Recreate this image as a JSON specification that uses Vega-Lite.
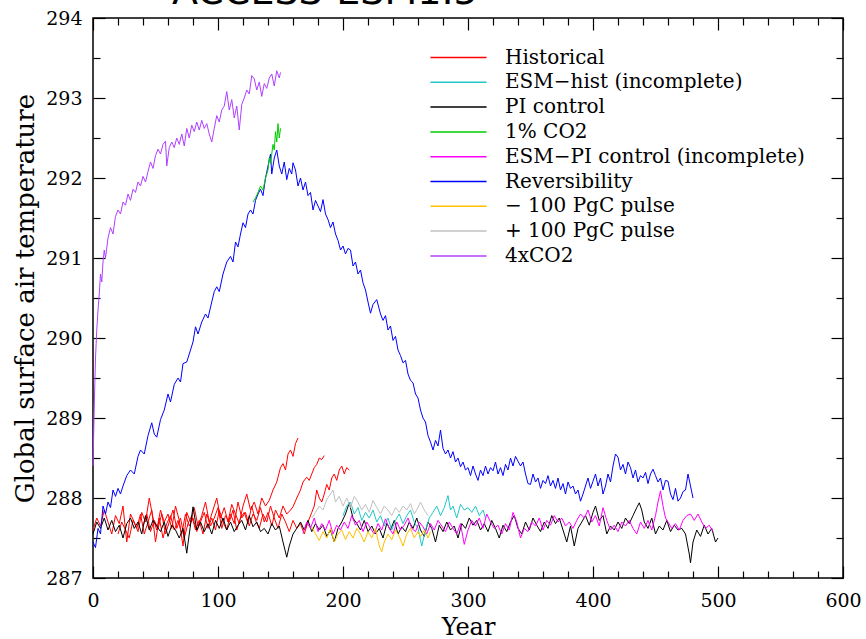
{
 "$schema": "https://vega.github.io/schema/vega-lite/v6.json",
 "width": 750,
 "height": 560,
 "autosize": "none",
 "padding": {"left": 93, "top": 18, "right": 23, "bottom": 61},
 "background": "white",
 "title": {"text": "ACCESS-ESM1.5", "anchor": "start", "frame": "group", "dx": 79, "offset": -33, "baseline": "alphabetic", "font": "DejaVu Sans", "fontSize": 38, "fontWeight": "normal", "color": "black"},
 "config": {"view": {"stroke": "black", "strokeWidth": 1.5}},
 "datasets": {
  "c4": [{"x":0,"y":288.4},{"x":1,"y":289.15},{"x":2,"y":289.75},{"x":3,"y":290.1},{"x":4,"y":290.35},{"x":5,"y":290.55},{"x":6,"y":290.8},{"x":7,"y":290.7},{"x":8,"y":290.95},{"x":9,"y":291.1},{"x":10,"y":291.0},{"x":12,"y":291.25},{"x":14,"y":291.38},{"x":16,"y":291.3},{"x":18,"y":291.52},{"x":20,"y":291.6},{"x":22,"y":291.55},{"x":24,"y":291.7},{"x":26,"y":291.66},{"x":28,"y":291.8},{"x":30,"y":291.72},{"x":32,"y":291.86},{"x":34,"y":291.82},{"x":36,"y":291.95},{"x":38,"y":291.9},{"x":40,"y":292.02},{"x":42,"y":291.95},{"x":44,"y":292.08},{"x":46,"y":292.2},{"x":48,"y":292.12},{"x":50,"y":292.28},{"x":52,"y":292.36},{"x":54,"y":292.3},{"x":56,"y":292.42},{"x":58,"y":292.46},{"x":59,"y":292.15},{"x":61,"y":292.38},{"x":63,"y":292.45},{"x":65,"y":292.38},{"x":67,"y":292.5},{"x":69,"y":292.42},{"x":71,"y":292.55},{"x":73,"y":292.4},{"x":75,"y":292.62},{"x":77,"y":292.5},{"x":79,"y":292.66},{"x":81,"y":292.58},{"x":83,"y":292.7},{"x":85,"y":292.6},{"x":87,"y":292.72},{"x":89,"y":292.62},{"x":91,"y":292.68},{"x":93,"y":292.55},{"x":95,"y":292.45},{"x":97,"y":292.62},{"x":99,"y":292.78},{"x":101,"y":292.7},{"x":103,"y":292.85},{"x":105,"y":292.9},{"x":107,"y":293.08},{"x":109,"y":292.85},{"x":111,"y":292.98},{"x":113,"y":292.75},{"x":115,"y":292.9},{"x":117,"y":292.6},{"x":119,"y":292.92},{"x":121,"y":293.0},{"x":123,"y":293.1},{"x":125,"y":293.05},{"x":127,"y":293.28},{"x":129,"y":293.24},{"x":131,"y":293.1},{"x":133,"y":293.2},{"x":135,"y":293.02},{"x":137,"y":293.18},{"x":139,"y":293.12},{"x":141,"y":293.25},{"x":143,"y":293.3},{"x":145,"y":293.15},{"x":147,"y":293.34},{"x":149,"y":293.25},{"x":150,"y":293.32}],
  "rev": [{"x":0,"y":287.45},{"x":2,"y":287.38},{"x":4,"y":287.62},{"x":6,"y":287.55},{"x":8,"y":287.9},{"x":10,"y":287.8},{"x":12,"y":287.95},{"x":14,"y":287.88},{"x":16,"y":288.1},{"x":18,"y":288.02},{"x":20,"y":288.12},{"x":22,"y":288.05},{"x":24,"y":288.15},{"x":27,"y":288.28},{"x":30,"y":288.35},{"x":33,"y":288.3},{"x":36,"y":288.52},{"x":38,"y":288.6},{"x":41,"y":288.55},{"x":44,"y":288.78},{"x":47,"y":288.94},{"x":49,"y":288.8},{"x":51,"y":288.76},{"x":54,"y":288.98},{"x":57,"y":289.1},{"x":60,"y":289.3},{"x":62,"y":289.2},{"x":65,"y":289.42},{"x":68,"y":289.5},{"x":70,"y":289.45},{"x":72,"y":289.68},{"x":75,"y":289.7},{"x":78,"y":289.85},{"x":80,"y":289.95},{"x":82,"y":290.14},{"x":84,"y":290.05},{"x":87,"y":290.2},{"x":90,"y":290.3},{"x":92,"y":290.25},{"x":95,"y":290.45},{"x":97,"y":290.58},{"x":99,"y":290.64},{"x":101,"y":290.58},{"x":104,"y":290.8},{"x":107,"y":290.95},{"x":110,"y":291.02},{"x":112,"y":290.95},{"x":114,"y":291.2},{"x":116,"y":291.14},{"x":118,"y":291.3},{"x":120,"y":291.44},{"x":122,"y":291.38},{"x":124,"y":291.55},{"x":126,"y":291.6},{"x":128,"y":291.55},{"x":130,"y":291.72},{"x":132,"y":291.8},{"x":134,"y":291.86},{"x":136,"y":291.78},{"x":138,"y":292.0},{"x":140,"y":292.15},{"x":142,"y":292.3},{"x":143,"y":292.05},{"x":145,"y":292.25},{"x":147,"y":292.35},{"x":149,"y":292.15},{"x":151,"y":292.05},{"x":153,"y":292.2},{"x":155,"y":291.98},{"x":157,"y":292.12},{"x":159,"y":292.05},{"x":160,"y":292.19},{"x":162,"y":292.1},{"x":164,"y":291.9},{"x":166,"y":292.0},{"x":168,"y":291.85},{"x":170,"y":291.95},{"x":172,"y":291.78},{"x":174,"y":291.82},{"x":176,"y":291.6},{"x":178,"y":291.72},{"x":180,"y":291.65},{"x":182,"y":291.58},{"x":184,"y":291.73},{"x":186,"y":291.55},{"x":188,"y":291.48},{"x":190,"y":291.38},{"x":192,"y":291.45},{"x":194,"y":291.3},{"x":196,"y":291.22},{"x":198,"y":291.1},{"x":200,"y":291.15},{"x":202,"y":291.05},{"x":204,"y":291.12},{"x":206,"y":291.1},{"x":208,"y":290.9},{"x":210,"y":290.95},{"x":212,"y":290.8},{"x":214,"y":290.85},{"x":216,"y":290.69},{"x":218,"y":290.6},{"x":220,"y":290.45},{"x":222,"y":290.31},{"x":224,"y":290.42},{"x":227,"y":290.48},{"x":230,"y":290.3},{"x":232,"y":290.22},{"x":234,"y":290.28},{"x":236,"y":290.1},{"x":238,"y":290.15},{"x":240,"y":289.97},{"x":242,"y":290.02},{"x":244,"y":289.85},{"x":246,"y":289.78},{"x":248,"y":289.69},{"x":250,"y":289.72},{"x":252,"y":289.55},{"x":254,"y":289.47},{"x":256,"y":289.44},{"x":258,"y":289.3},{"x":260,"y":289.25},{"x":262,"y":289.1},{"x":264,"y":289.0},{"x":266,"y":288.95},{"x":268,"y":288.78},{"x":270,"y":288.7},{"x":272,"y":288.6},{"x":274,"y":288.72},{"x":276,"y":288.65},{"x":278,"y":288.85},{"x":280,"y":288.62},{"x":282,"y":288.55},{"x":284,"y":288.6},{"x":286,"y":288.5},{"x":288,"y":288.58},{"x":290,"y":288.45},{"x":292,"y":288.5},{"x":294,"y":288.39},{"x":296,"y":288.45},{"x":298,"y":288.35},{"x":300,"y":288.38},{"x":302,"y":288.28},{"x":304,"y":288.4},{"x":306,"y":288.3},{"x":308,"y":288.22},{"x":310,"y":288.35},{"x":312,"y":288.28},{"x":314,"y":288.4},{"x":316,"y":288.3},{"x":318,"y":288.38},{"x":320,"y":288.34},{"x":322,"y":288.45},{"x":324,"y":288.3},{"x":326,"y":288.38},{"x":328,"y":288.28},{"x":330,"y":288.42},{"x":332,"y":288.35},{"x":334,"y":288.5},{"x":336,"y":288.4},{"x":338,"y":288.52},{"x":340,"y":288.46},{"x":342,"y":288.4},{"x":344,"y":288.45},{"x":346,"y":288.3},{"x":348,"y":288.18},{"x":350,"y":288.17},{"x":352,"y":288.3},{"x":354,"y":288.2},{"x":356,"y":288.25},{"x":358,"y":288.12},{"x":360,"y":288.22},{"x":362,"y":288.18},{"x":364,"y":288.28},{"x":366,"y":288.15},{"x":368,"y":288.22},{"x":370,"y":288.12},{"x":372,"y":288.25},{"x":374,"y":288.1},{"x":376,"y":288.18},{"x":378,"y":288.05},{"x":380,"y":288.2},{"x":382,"y":288.12},{"x":384,"y":288.15},{"x":386,"y":288.05},{"x":388,"y":288.1},{"x":390,"y":287.96},{"x":392,"y":288.05},{"x":394,"y":288.15},{"x":396,"y":288.25},{"x":398,"y":288.12},{"x":400,"y":288.21},{"x":402,"y":288.3},{"x":404,"y":288.15},{"x":406,"y":288.25},{"x":408,"y":288.05},{"x":410,"y":288.15},{"x":412,"y":288.3},{"x":414,"y":288.2},{"x":416,"y":288.4},{"x":418,"y":288.55},{"x":420,"y":288.51},{"x":422,"y":288.35},{"x":424,"y":288.42},{"x":426,"y":288.3},{"x":428,"y":288.45},{"x":430,"y":288.38},{"x":432,"y":288.25},{"x":434,"y":288.35},{"x":436,"y":288.2},{"x":438,"y":288.28},{"x":440,"y":288.25},{"x":442,"y":288.32},{"x":444,"y":288.18},{"x":446,"y":288.3},{"x":448,"y":288.36},{"x":450,"y":288.28},{"x":452,"y":288.2},{"x":454,"y":288.25},{"x":456,"y":288.1},{"x":458,"y":288.22},{"x":460,"y":288.21},{"x":462,"y":288.05},{"x":464,"y":287.98},{"x":466,"y":288.12},{"x":468,"y":287.96},{"x":470,"y":288.0},{"x":472,"y":288.08},{"x":474,"y":288.1},{"x":476,"y":288.3},{"x":478,"y":288.15},{"x":480,"y":288.0}],
  "pct": [{"x":128,"y":291.7},{"x":130,"y":291.75},{"x":132,"y":291.82},{"x":134,"y":291.9},{"x":136,"y":291.85},{"x":138,"y":292.0},{"x":140,"y":292.1},{"x":141,"y":292.25},{"x":142,"y":292.18},{"x":143,"y":292.3},{"x":144,"y":292.42},{"x":145,"y":292.35},{"x":146,"y":292.58},{"x":147,"y":292.45},{"x":148,"y":292.68},{"x":149,"y":292.5},{"x":150,"y":292.62}],
  "pi": [{"x":0,"y":287.55},{"x":3,"y":287.7},{"x":6,"y":287.62},{"x":9,"y":287.75},{"x":12,"y":287.6},{"x":15,"y":287.72},{"x":18,"y":287.58},{"x":21,"y":287.66},{"x":24,"y":287.5},{"x":27,"y":287.68},{"x":30,"y":287.75},{"x":33,"y":287.62},{"x":36,"y":287.7},{"x":39,"y":287.55},{"x":42,"y":287.78},{"x":45,"y":287.6},{"x":48,"y":287.72},{"x":51,"y":287.65},{"x":54,"y":287.58},{"x":57,"y":287.7},{"x":60,"y":287.52},{"x":63,"y":287.66},{"x":66,"y":287.6},{"x":69,"y":287.5},{"x":72,"y":287.62},{"x":75,"y":287.31},{"x":77,"y":287.55},{"x":80,"y":287.89},{"x":83,"y":287.6},{"x":86,"y":287.7},{"x":89,"y":287.58},{"x":92,"y":287.68},{"x":95,"y":287.55},{"x":98,"y":287.72},{"x":101,"y":287.62},{"x":104,"y":287.75},{"x":107,"y":287.6},{"x":110,"y":287.7},{"x":113,"y":287.58},{"x":116,"y":287.66},{"x":119,"y":287.72},{"x":122,"y":287.6},{"x":125,"y":287.78},{"x":128,"y":287.64},{"x":131,"y":287.7},{"x":134,"y":287.58},{"x":137,"y":287.62},{"x":140,"y":287.55},{"x":143,"y":287.68},{"x":146,"y":287.6},{"x":149,"y":287.65},{"x":152,"y":287.45},{"x":155,"y":287.26},{"x":157,"y":287.4},{"x":160,"y":287.55},{"x":163,"y":287.62},{"x":166,"y":287.7},{"x":169,"y":287.6},{"x":172,"y":287.72},{"x":175,"y":287.58},{"x":178,"y":287.68},{"x":181,"y":287.6},{"x":184,"y":287.66},{"x":187,"y":287.52},{"x":190,"y":287.6},{"x":193,"y":287.45},{"x":196,"y":287.62},{"x":199,"y":287.7},{"x":202,"y":287.8},{"x":205,"y":287.94},{"x":208,"y":287.75},{"x":211,"y":287.68},{"x":214,"y":287.6},{"x":217,"y":287.72},{"x":220,"y":287.58},{"x":223,"y":287.65},{"x":226,"y":287.55},{"x":229,"y":287.62},{"x":232,"y":287.5},{"x":235,"y":287.68},{"x":238,"y":287.6},{"x":241,"y":287.72},{"x":244,"y":287.55},{"x":247,"y":287.64},{"x":250,"y":287.58},{"x":253,"y":287.7},{"x":256,"y":287.62},{"x":259,"y":287.75},{"x":262,"y":287.6},{"x":265,"y":287.52},{"x":268,"y":287.7},{"x":271,"y":287.62},{"x":274,"y":287.45},{"x":277,"y":287.66},{"x":280,"y":287.58},{"x":283,"y":287.7},{"x":286,"y":287.6},{"x":289,"y":287.65},{"x":292,"y":287.5},{"x":295,"y":287.68},{"x":298,"y":287.62},{"x":301,"y":287.75},{"x":304,"y":287.66},{"x":307,"y":287.72},{"x":310,"y":287.6},{"x":313,"y":287.68},{"x":316,"y":287.58},{"x":319,"y":287.72},{"x":322,"y":287.62},{"x":325,"y":287.5},{"x":328,"y":287.66},{"x":331,"y":287.58},{"x":334,"y":287.7},{"x":337,"y":287.78},{"x":340,"y":287.62},{"x":343,"y":287.55},{"x":346,"y":287.7},{"x":349,"y":287.6},{"x":352,"y":287.75},{"x":355,"y":287.66},{"x":358,"y":287.58},{"x":361,"y":287.7},{"x":364,"y":287.62},{"x":367,"y":287.78},{"x":370,"y":287.68},{"x":373,"y":287.75},{"x":376,"y":287.6},{"x":379,"y":287.45},{"x":382,"y":287.65},{"x":385,"y":287.4},{"x":388,"y":287.62},{"x":391,"y":287.7},{"x":394,"y":287.78},{"x":397,"y":287.66},{"x":400,"y":287.82},{"x":402,"y":287.9},{"x":405,"y":287.72},{"x":408,"y":287.78},{"x":411,"y":287.55},{"x":414,"y":287.65},{"x":417,"y":287.6},{"x":420,"y":287.7},{"x":423,"y":287.62},{"x":426,"y":287.75},{"x":429,"y":287.68},{"x":432,"y":287.78},{"x":435,"y":287.88},{"x":437,"y":287.94},{"x":439,"y":287.85},{"x":441,"y":287.7},{"x":444,"y":287.62},{"x":447,"y":287.75},{"x":450,"y":287.55},{"x":453,"y":287.65},{"x":456,"y":287.6},{"x":459,"y":287.72},{"x":462,"y":287.58},{"x":465,"y":287.66},{"x":468,"y":287.6},{"x":471,"y":287.62},{"x":474,"y":287.55},{"x":477,"y":287.3},{"x":478,"y":287.19},{"x":480,"y":287.45},{"x":483,"y":287.6},{"x":486,"y":287.52},{"x":489,"y":287.66},{"x":492,"y":287.55},{"x":495,"y":287.62},{"x":498,"y":287.45},{"x":500,"y":287.5}],
  "esmpi": [{"x":168,"y":287.56},{"x":171,"y":287.7},{"x":174,"y":287.62},{"x":177,"y":287.75},{"x":180,"y":287.58},{"x":183,"y":287.68},{"x":186,"y":287.6},{"x":189,"y":287.72},{"x":192,"y":287.55},{"x":195,"y":287.66},{"x":198,"y":287.6},{"x":201,"y":287.7},{"x":204,"y":287.62},{"x":207,"y":287.78},{"x":210,"y":287.66},{"x":213,"y":287.72},{"x":216,"y":287.58},{"x":219,"y":287.7},{"x":222,"y":287.62},{"x":225,"y":287.55},{"x":228,"y":287.68},{"x":231,"y":287.6},{"x":234,"y":287.74},{"x":237,"y":287.62},{"x":240,"y":287.55},{"x":243,"y":287.7},{"x":246,"y":287.6},{"x":249,"y":287.66},{"x":252,"y":287.75},{"x":255,"y":287.62},{"x":258,"y":287.58},{"x":261,"y":287.7},{"x":264,"y":287.64},{"x":267,"y":287.55},{"x":270,"y":287.68},{"x":273,"y":287.6},{"x":276,"y":287.72},{"x":279,"y":287.65},{"x":282,"y":287.58},{"x":285,"y":287.7},{"x":288,"y":287.62},{"x":291,"y":287.55},{"x":294,"y":287.68},{"x":297,"y":287.42},{"x":300,"y":287.6},{"x":303,"y":287.72},{"x":306,"y":287.65},{"x":309,"y":287.75},{"x":312,"y":287.62},{"x":315,"y":287.8},{"x":318,"y":287.7},{"x":321,"y":287.62},{"x":324,"y":287.66},{"x":327,"y":287.55},{"x":330,"y":287.68},{"x":333,"y":287.6},{"x":336,"y":287.82},{"x":339,"y":287.7},{"x":342,"y":287.5},{"x":345,"y":287.62},{"x":348,"y":287.58},{"x":351,"y":287.7},{"x":354,"y":287.65},{"x":357,"y":287.75},{"x":360,"y":287.6},{"x":363,"y":287.72},{"x":366,"y":287.66},{"x":369,"y":287.78},{"x":372,"y":287.7},{"x":375,"y":287.75},{"x":378,"y":287.65},{"x":381,"y":287.7},{"x":384,"y":287.62},{"x":387,"y":287.72},{"x":390,"y":287.8},{"x":393,"y":287.75},{"x":396,"y":287.85},{"x":399,"y":287.7},{"x":402,"y":287.78},{"x":405,"y":287.65},{"x":408,"y":287.88},{"x":411,"y":287.72},{"x":414,"y":287.6},{"x":417,"y":287.66},{"x":420,"y":287.58},{"x":423,"y":287.7},{"x":426,"y":287.65},{"x":429,"y":287.72},{"x":432,"y":287.62},{"x":435,"y":287.55},{"x":438,"y":287.7},{"x":441,"y":287.62},{"x":444,"y":287.72},{"x":447,"y":287.6},{"x":450,"y":287.78},{"x":452,"y":287.95},{"x":454,"y":288.09},{"x":456,"y":287.9},{"x":458,"y":287.75},{"x":460,"y":287.7},{"x":463,"y":287.62},{"x":466,"y":287.68},{"x":469,"y":287.6},{"x":472,"y":287.72},{"x":475,"y":287.78},{"x":478,"y":287.8},{"x":481,"y":287.72},{"x":484,"y":287.8},{"x":487,"y":287.7},{"x":490,"y":287.62},{"x":493,"y":287.66},{"x":496,"y":287.58}],
  "esmh": [{"x":200,"y":287.78},{"x":203,"y":287.9},{"x":206,"y":287.95},{"x":209,"y":287.8},{"x":212,"y":287.88},{"x":215,"y":287.72},{"x":218,"y":287.82},{"x":221,"y":287.75},{"x":224,"y":287.85},{"x":227,"y":287.7},{"x":230,"y":287.78},{"x":233,"y":287.65},{"x":236,"y":287.75},{"x":239,"y":287.6},{"x":242,"y":287.72},{"x":245,"y":287.8},{"x":248,"y":287.68},{"x":251,"y":287.78},{"x":254,"y":287.85},{"x":257,"y":287.7},{"x":260,"y":287.62},{"x":263,"y":287.4},{"x":266,"y":287.6},{"x":269,"y":287.75},{"x":272,"y":287.82},{"x":275,"y":287.9},{"x":278,"y":287.78},{"x":281,"y":287.88},{"x":284,"y":288.03},{"x":286,"y":287.85},{"x":288,"y":287.9},{"x":291,"y":287.75},{"x":294,"y":287.92},{"x":297,"y":287.85},{"x":300,"y":287.88},{"x":303,"y":287.82},{"x":306,"y":287.9},{"x":309,"y":287.78},{"x":312,"y":287.85},{"x":314,"y":287.75}],
  "minus": [{"x":175,"y":287.64},{"x":178,"y":287.55},{"x":181,"y":287.47},{"x":184,"y":287.58},{"x":187,"y":287.5},{"x":190,"y":287.62},{"x":193,"y":287.45},{"x":196,"y":287.55},{"x":199,"y":287.6},{"x":202,"y":287.48},{"x":205,"y":287.58},{"x":208,"y":287.5},{"x":211,"y":287.62},{"x":214,"y":287.55},{"x":217,"y":287.45},{"x":220,"y":287.58},{"x":223,"y":287.5},{"x":226,"y":287.62},{"x":229,"y":287.4},{"x":231,"y":287.33},{"x":233,"y":287.45},{"x":236,"y":287.55},{"x":239,"y":287.48},{"x":242,"y":287.6},{"x":245,"y":287.52},{"x":248,"y":287.4},{"x":251,"y":287.55},{"x":254,"y":287.62},{"x":257,"y":287.5},{"x":260,"y":287.58},{"x":262,"y":287.52},{"x":265,"y":287.6},{"x":268,"y":287.5},{"x":270,"y":287.58}],
  "plus": [{"x":175,"y":287.75},{"x":178,"y":287.82},{"x":181,"y":287.9},{"x":184,"y":287.85},{"x":187,"y":287.98},{"x":190,"y":288.05},{"x":192,"y":288.1},{"x":194,"y":287.95},{"x":197,"y":288.02},{"x":200,"y":287.9},{"x":203,"y":288.0},{"x":206,"y":287.88},{"x":209,"y":288.02},{"x":212,"y":287.95},{"x":215,"y":287.85},{"x":218,"y":287.92},{"x":221,"y":287.82},{"x":224,"y":287.97},{"x":227,"y":287.88},{"x":230,"y":287.8},{"x":233,"y":287.9},{"x":236,"y":287.85},{"x":239,"y":287.78},{"x":242,"y":287.88},{"x":245,"y":287.82},{"x":248,"y":287.9},{"x":251,"y":287.85},{"x":254,"y":287.93},{"x":257,"y":287.8},{"x":260,"y":287.88},{"x":262,"y":287.95},{"x":265,"y":287.85},{"x":268,"y":287.78}],
  "h1": [{"x":0,"y":287.6},{"x":3,"y":287.75},{"x":6,"y":287.65},{"x":9,"y":287.85},{"x":12,"y":287.7},{"x":15,"y":287.55},{"x":18,"y":287.78},{"x":21,"y":287.68},{"x":24,"y":287.9},{"x":27,"y":287.45},{"x":30,"y":287.8},{"x":33,"y":287.7},{"x":36,"y":287.58},{"x":39,"y":287.82},{"x":42,"y":287.7},{"x":45,"y":288.0},{"x":48,"y":287.75},{"x":51,"y":287.6},{"x":54,"y":287.85},{"x":57,"y":287.7},{"x":60,"y":287.8},{"x":63,"y":287.62},{"x":66,"y":287.9},{"x":69,"y":287.72},{"x":72,"y":287.4},{"x":75,"y":287.82},{"x":78,"y":287.7},{"x":81,"y":287.88},{"x":84,"y":287.65},{"x":87,"y":287.78},{"x":90,"y":287.95},{"x":93,"y":287.7},{"x":96,"y":287.85},{"x":99,"y":288.0},{"x":102,"y":287.75},{"x":105,"y":287.88},{"x":108,"y":287.7},{"x":111,"y":287.92},{"x":114,"y":287.8},{"x":117,"y":287.68},{"x":120,"y":287.9},{"x":123,"y":288.05},{"x":126,"y":287.85},{"x":129,"y":287.95},{"x":132,"y":287.8},{"x":135,"y":288.0},{"x":138,"y":287.9},{"x":141,"y":287.97},{"x":144,"y":288.1},{"x":147,"y":288.2},{"x":150,"y":288.38},{"x":152,"y":288.43},{"x":154,"y":288.35},{"x":156,"y":288.55},{"x":158,"y":288.6},{"x":160,"y":288.52},{"x":162,"y":288.68},{"x":164,"y":288.75}],
  "h2": [{"x":20,"y":287.55},{"x":23,"y":287.7},{"x":26,"y":287.6},{"x":29,"y":287.5},{"x":32,"y":287.72},{"x":35,"y":287.62},{"x":38,"y":287.8},{"x":41,"y":287.55},{"x":44,"y":287.7},{"x":47,"y":287.85},{"x":50,"y":287.45},{"x":53,"y":287.75},{"x":56,"y":287.5},{"x":59,"y":287.68},{"x":62,"y":287.78},{"x":65,"y":287.6},{"x":68,"y":287.72},{"x":71,"y":287.55},{"x":74,"y":287.8},{"x":77,"y":287.65},{"x":80,"y":287.75},{"x":83,"y":287.58},{"x":86,"y":287.7},{"x":89,"y":287.82},{"x":92,"y":287.62},{"x":95,"y":287.75},{"x":98,"y":287.6},{"x":101,"y":287.85},{"x":104,"y":287.7},{"x":107,"y":287.6},{"x":110,"y":287.8},{"x":113,"y":287.68},{"x":116,"y":287.95},{"x":119,"y":287.75},{"x":122,"y":287.82},{"x":125,"y":287.65},{"x":128,"y":287.8},{"x":131,"y":287.72},{"x":134,"y":287.88},{"x":137,"y":287.7},{"x":140,"y":287.82},{"x":143,"y":287.65},{"x":146,"y":287.85},{"x":149,"y":287.75},{"x":152,"y":287.9},{"x":155,"y":287.8},{"x":158,"y":287.85},{"x":160,"y":287.89},{"x":163,"y":288.0},{"x":166,"y":288.1},{"x":168,"y":288.2},{"x":171,"y":288.26},{"x":173,"y":288.22},{"x":175,"y":288.3},{"x":177,"y":288.38},{"x":179,"y":288.42},{"x":181,"y":288.5},{"x":183,"y":288.48},{"x":185,"y":288.53}],
  "h3": [{"x":40,"y":287.65},{"x":43,"y":287.8},{"x":46,"y":287.58},{"x":49,"y":287.72},{"x":52,"y":287.62},{"x":55,"y":287.8},{"x":58,"y":287.55},{"x":61,"y":287.7},{"x":64,"y":287.85},{"x":67,"y":287.62},{"x":70,"y":287.75},{"x":73,"y":287.5},{"x":76,"y":287.68},{"x":79,"y":287.78},{"x":82,"y":287.6},{"x":85,"y":287.72},{"x":88,"y":287.55},{"x":91,"y":287.8},{"x":94,"y":287.65},{"x":97,"y":287.75},{"x":100,"y":287.88},{"x":103,"y":287.62},{"x":106,"y":287.78},{"x":109,"y":287.7},{"x":112,"y":287.85},{"x":115,"y":287.6},{"x":118,"y":287.75},{"x":121,"y":287.82},{"x":124,"y":287.68},{"x":127,"y":287.9},{"x":130,"y":287.72},{"x":133,"y":287.62},{"x":136,"y":287.8},{"x":139,"y":287.7},{"x":142,"y":287.9},{"x":145,"y":287.75},{"x":148,"y":287.62},{"x":151,"y":287.8},{"x":154,"y":287.7},{"x":157,"y":287.58},{"x":160,"y":287.72},{"x":163,"y":287.62},{"x":166,"y":287.68},{"x":169,"y":287.55},{"x":172,"y":287.7},{"x":175,"y":287.82},{"x":177,"y":287.9},{"x":179,"y":288.1},{"x":181,"y":288.0},{"x":183,"y":287.95},{"x":185,"y":288.05},{"x":187,"y":288.17},{"x":189,"y":288.1},{"x":191,"y":288.25},{"x":193,"y":288.3},{"x":195,"y":288.22},{"x":197,"y":288.35},{"x":199,"y":288.4},{"x":201,"y":288.3},{"x":203,"y":288.38},{"x":205,"y":288.35}]
 },
 "encoding": {
  "x": {"field": "x", "type": "quantitative", "scale": {"domain": [0, 600], "nice": false, "zero": false}, "axis": null},
  "y": {"field": "y", "type": "quantitative", "scale": {"domain": [287, 294], "nice": false, "zero": false}, "axis": null}
 },
 "layer": [
  {
   "data": {"name": "h1"},
   "mark": {"type": "line", "strokeWidth": 1},
   "encoding": {
    "x": {"field": "x", "type": "quantitative", "axis": {"orient": "bottom", "values": [0, 100, 200, 300, 400, 500, 600], "ticks": false, "domain": false, "grid": false, "labelFont": "DejaVu Serif", "labelFontSize": 19, "labelColor": "black", "labelPadding": 13, "labelFlush": false, "labelOverlap": false, "title": "Year", "titleFont": "DejaVu Serif", "titleFontSize": 24, "titleFontWeight": "normal", "titleColor": "black", "titlePadding": 5}},
    "y": {"field": "y", "type": "quantitative", "axis": {"orient": "left", "values": [287, 288, 289, 290, 291, 292, 293, 294], "ticks": false, "domain": false, "grid": false, "labelFont": "DejaVu Serif", "labelFontSize": 19, "labelColor": "black", "labelPadding": 11, "labelFlush": false, "labelOverlap": false, "title": "Global surface air temperature", "titleFont": "DejaVu Serif", "titleFontSize": 26, "titleFontWeight": "normal", "titleColor": "black", "titlePadding": 7}},
    "color": {"datum": "Historical", "type": "nominal",
     "scale": {"domain": ["Historical", "ESM−hist (incomplete)", "PI control", "1% CO2", "ESM−PI control (incomplete)", "Reversibility", "− 100 PgC pulse", "+ 100 PgC pulse", "4xCO2"],
               "range": ["#ff0000", "#20c8c8", "#000000", "#00cc00", "#ff00ff", "#0000ff", "#ffc000", "#c0c0c0", "#b040ff"]},
     "legend": {"orient": "none", "legendX": 355, "legendY": 29, "title": null, "padding": 0, "symbolType": "M-3,0H3", "symbolSize": 350, "symbolStrokeWidth": 1.5, "labelOffset": 36, "labelFont": "DejaVu Serif", "labelFontSize": 20, "labelColor": "black", "rowPadding": 3.8, "labelLimit": 400}}
   }
  },
  {"data": {"name": "h2"}, "mark": {"type": "line", "strokeWidth": 1}, "encoding": {"color": {"datum": "Historical", "type": "nominal"}}},
  {"data": {"name": "h3"}, "mark": {"type": "line", "strokeWidth": 1}, "encoding": {"color": {"datum": "Historical", "type": "nominal"}}},
  {"data": {"name": "pi"}, "mark": {"type": "line", "strokeWidth": 1}, "encoding": {"color": {"datum": "PI control", "type": "nominal"}}},
  {"data": {"name": "esmh"}, "mark": {"type": "line", "strokeWidth": 1}, "encoding": {"color": {"datum": "ESM−hist (incomplete)", "type": "nominal"}}},
  {"data": {"name": "esmpi"}, "mark": {"type": "line", "strokeWidth": 1}, "encoding": {"color": {"datum": "ESM−PI control (incomplete)", "type": "nominal"}}},
  {"data": {"name": "minus"}, "mark": {"type": "line", "strokeWidth": 1}, "encoding": {"color": {"datum": "− 100 PgC pulse", "type": "nominal"}}},
  {"data": {"name": "plus"}, "mark": {"type": "line", "strokeWidth": 1}, "encoding": {"color": {"datum": "+ 100 PgC pulse", "type": "nominal"}}},
  {"data": {"name": "rev"}, "mark": {"type": "line", "strokeWidth": 1}, "encoding": {"color": {"datum": "Reversibility", "type": "nominal"}}},
  {"data": {"name": "pct"}, "mark": {"type": "line", "strokeWidth": 1}, "encoding": {"color": {"datum": "1% CO2", "type": "nominal"}}},
  {"data": {"name": "c4"}, "mark": {"type": "line", "strokeWidth": 1}, "encoding": {"color": {"datum": "4xCO2", "type": "nominal"}}},
  {
   "data": {"name": "pct"}, "mark": {"type": "point", "opacity": 0},
   "encoding": {
    "x": {"field": "x", "type": "quantitative", "axis": {"orient": "bottom", "values": [0, 100, 200, 300, 400, 500, 600], "labels": false, "domain": false, "grid": false, "tickSize": -12, "tickColor": "black", "tickWidth": 1.2, "title": null}},
    "y": {"field": "y", "type": "quantitative", "axis": {"orient": "left", "values": [287, 288, 289, 290, 291, 292, 293, 294], "labels": false, "domain": false, "grid": false, "tickSize": -12, "tickColor": "black", "tickWidth": 1.2, "title": null}}
   }
  },
  {
   "data": {"name": "pct"}, "mark": {"type": "point", "opacity": 0},
   "encoding": {
    "x": {"field": "x", "type": "quantitative", "axis": {"orient": "bottom", "values": [20, 40, 60, 80, 120, 140, 160, 180, 220, 240, 260, 280, 320, 340, 360, 380, 420, 440, 460, 480, 520, 540, 560, 580], "labels": false, "domain": false, "grid": false, "tickSize": -7, "tickColor": "black", "tickWidth": 1.2, "title": null}},
    "y": {"field": "y", "type": "quantitative", "axis": {"orient": "left", "values": [287.5, 288.5, 289.5, 290.5, 291.5, 292.5, 293.5], "labels": false, "domain": false, "grid": false, "tickSize": -7, "tickColor": "black", "tickWidth": 1.2, "title": null}}
   }
  },
  {
   "data": {"name": "pct"}, "mark": {"type": "point", "opacity": 0},
   "encoding": {
    "x": {"field": "x", "type": "quantitative", "axis": {"orient": "top", "values": [0, 100, 200, 300, 400, 500, 600], "labels": false, "domain": false, "grid": false, "tickSize": -12, "tickColor": "black", "tickWidth": 1.2, "title": null}},
    "y": {"field": "y", "type": "quantitative", "axis": {"orient": "right", "values": [287, 288, 289, 290, 291, 292, 293, 294], "labels": false, "domain": false, "grid": false, "tickSize": -12, "tickColor": "black", "tickWidth": 1.2, "title": null}}
   }
  },
  {
   "data": {"name": "pct"}, "mark": {"type": "point", "opacity": 0},
   "encoding": {
    "x": {"field": "x", "type": "quantitative", "axis": {"orient": "top", "values": [20, 40, 60, 80, 120, 140, 160, 180, 220, 240, 260, 280, 320, 340, 360, 380, 420, 440, 460, 480, 520, 540, 560, 580], "labels": false, "domain": false, "grid": false, "tickSize": -7, "tickColor": "black", "tickWidth": 1.2, "title": null}},
    "y": {"field": "y", "type": "quantitative", "axis": {"orient": "right", "values": [287.5, 288.5, 289.5, 290.5, 291.5, 292.5, 293.5], "labels": false, "domain": false, "grid": false, "tickSize": -7, "tickColor": "black", "tickWidth": 1.2, "title": null}}
   }
  }
 ],
 "resolve": {"axis": {"x": "independent", "y": "independent"}}
}
